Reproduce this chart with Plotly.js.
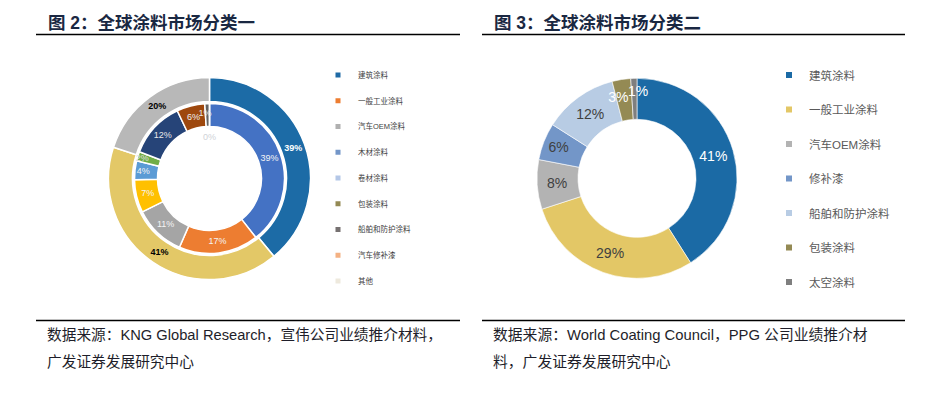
<!DOCTYPE html>
<html><head><meta charset="utf-8">
<script src="https://cdn.plot.ly/plotly-3.0.1.min.js"></script>
<style>
html,body{margin:0;padding:0;background:#fff;}
#wrap{width:926px;height:395px;position:relative;overflow:hidden;}
#left,#right{position:absolute;top:0;width:463px;height:395px;}
#left{left:0}#right{left:463px}
</style></head><body>
<div id="wrap"><div id="left"></div><div id="right"></div></div>
<script>
// ---------- Figure 2 data ----------
const leftTitle = '图 2：全球涂料市场分类一';
const leftSource1 = '数据来源：KNG Global Research，宣伟公司业绩推介材料，';
const leftSource2 = '广发证券发展研究中心';
const leftOuterLabels = ['建筑涂料', '工业涂料', '其他类'];
const leftOuterValues = [39, 41, 20];
const leftOuterColors = ['#1c6ba6', '#e3c867', '#b8b8b8'];
const leftOuterTextColors = ['#ffffff', '#000000', '#000000'];
const leftInnerLabels = ['建筑涂料', '一般工业涂料', '汽车OEM涂料', '木材涂料', '卷材涂料', '包装涂料', '船舶和防护涂料', '汽车修补漆', '其他', '未分类'];
const leftInnerValues = [39, 17, 11, 7, 4, 2, 12, 6, 1, 0];
const leftInnerColors = ['#4472c4', '#ed7d31', '#a5a5a5', '#ffc000', '#5b9bd5', '#70ad47', '#264478', '#9e480e', '#636363', '#dddddd'];
const leftInnerTextColors = ['#f4f4f4', '#f4f4f4', '#f4f4f4', '#f4f4f4', '#f4f4f4', '#e0e0e0', '#e8e8e8', '#eeeeee', '#e8e8e8', '#cfd3d8'];
const leftLegendLabels = ['建筑涂料', '一般工业涂料', '汽车OEM涂料', '木材涂料', '卷材涂料', '包装涂料', '船舶和防护涂料', '汽车修补漆', '其他'];
const leftLegendColors = ['#1f6aa5', '#ed7d31', '#b0b0b0', '#7396c8', '#b4c7e7', '#948a54', '#767171', '#f4b183', '#eee9dd'];

// ---------- Figure 3 data ----------
const rightTitle = '图 3：全球涂料市场分类二';
const rightSource1 = '数据来源：World Coating Council，PPG 公司业绩推介材';
const rightSource2 = '料，广发证券发展研究中心';
const rightLabels = ['建筑涂料', '一般工业涂料', '汽车OEM涂料', '修补漆', '船舶和防护涂料', '包装涂料', '太空涂料'];
const rightValues = [41, 29, 8, 6, 12, 3, 1];
const rightColors = ['#1b6aa5', '#e3c766', '#b3b3b3', '#7396c8', '#b8cce4', '#948a54', '#7f7f7f'];
const rightTextColors = ['#ffffff', '#404040', '#404040', '#404040', '#404040', '#ffffff', '#ffffff'];

// ---------- helpers ----------
const W = 463, H = 395;
const fx = v => v / W;
const fy = v => 1 - v / H;
const LAT = 'Liberation Sans, Arial, Noto Sans CJK SC, sans-serif';
const CJK = 'Liberation Sans, Noto Sans CJK SC, sans-serif';
const NB = '\u00a0';

function domainFor(cx, cy, r) {
  return { x: [fx(cx - r), fx(cx + r)], y: [fy(cy + r), fy(cy - r)] };
}

// label text for each slice, with optional non-breaking-space padding to nudge crowded labels
function labelTexts(values, padLeft, padRight) {
  return values.map((v, i) => NB.repeat(padLeft[i] || 0) + v + '%' + NB.repeat(padRight[i] || 0));
}

// a pie ring; `only` restricts which slices show a label; `ghost` makes slices invisible (label carrier)
function ring(opts) {
  const n = opts.values.length;
  const pos = opts.values.map((v, i) => (opts.only.indexOf(i) >= 0 ? 'inside' : 'none'));
  return {
    type: 'pie', values: opts.values, labels: opts.labels, sort: false,
    direction: 'clockwise', rotation: 0, hole: opts.hole,
    domain: domainFor(opts.cx, opts.cy, opts.r), showlegend: false, hoverinfo: 'skip',
    marker: opts.ghost
      ? { colors: new Array(n).fill('rgba(0,0,0,0)'), line: { width: 0 } }
      : { colors: opts.colors, line: { color: '#ffffff', width: opts.lineWidth } },
    text: opts.text, texttemplate: '%{text}', textposition: pos,
    insidetextorientation: 'horizontal',
    textfont: Object.assign({ family: LAT, size: opts.fontSize, color: opts.textColors }, opts.bold ? { weight: 'bold' } : {})
  };
}

function legendTraces(labels, colors, size) {
  return labels.map((lab, i) => ({
    type: 'scatter', mode: 'markers', x: [null], y: [null],
    name: lab, legendgroup: 'g' + i, showlegend: true, hoverinfo: 'skip',
    marker: { symbol: 'square', size: size, color: colors[i], line: { width: 0 } }
  }));
}

function frame(title, s1, s2, tx, lx0, lx1, srcSize) {
  return {
    annotations: [
      { text: '<b>' + title + '</b>', x: fx(tx), y: fy(23), xref: 'paper', yref: 'paper',
        xanchor: 'left', yanchor: 'middle', showarrow: false,
        font: { family: CJK, size: 17.5, color: '#1a2842' } },
      { text: s1, x: fx(tx - 1), y: fy(335), xref: 'paper', yref: 'paper',
        xanchor: 'left', yanchor: 'middle', showarrow: false,
        font: { family: CJK, size: srcSize, color: '#1e1e2a' } },
      { text: s2, x: fx(tx - 1), y: fy(362), xref: 'paper', yref: 'paper',
        xanchor: 'left', yanchor: 'middle', showarrow: false,
        font: { family: CJK, size: srcSize, color: '#1e1e2a' } }
    ],
    shapes: [
      { type: 'line', xref: 'paper', yref: 'paper', x0: fx(lx0), x1: fx(lx1), y0: fy(34.5), y1: fy(34.5),
        line: { color: '#000000', width: 1.5 } },
      { type: 'line', xref: 'paper', yref: 'paper', x0: fx(lx0), x1: fx(lx1), y0: fy(320.5), y1: fy(320.5),
        line: { color: '#000000', width: 1.5 } }
    ]
  };
}

const baseAxes = {
  xaxis: { visible: false, domain: [0, 0.01] },
  yaxis: { visible: false, domain: [0, 0.01] }
};

// ---------- Left figure ----------
const leftCx = 209.5, leftCy = 178.5;
const allIdx = n => Array.from({ length: n }, (_, i) => i);
const leftInnerText = labelTexts(leftInnerValues, [], leftInnerValues.map((_, i) => (i === 8 ? 2 : 0)));
const leftData = [
  ring({ values: leftOuterValues, labels: leftOuterLabels, colors: leftOuterColors, textColors: leftOuterTextColors,
         text: labelTexts(leftOuterValues, [], []), only: allIdx(3), cx: leftCx, cy: leftCy, r: 101, hole: 77 / 101,
         lineWidth: 1.5, fontSize: 9, bold: true }),
  ring({ values: leftInnerValues, labels: leftInnerLabels, colors: leftInnerColors, textColors: leftInnerTextColors,
         text: leftInnerText, only: [0, 1, 2, 3, 4, 5, 6, 7], cx: leftCx, cy: leftCy, r: 75, hole: 52 / 75,
         lineWidth: 1.5, fontSize: 9 }),
  // label carriers for the crowded slices at the top
  ring({ values: leftInnerValues, labels: leftInnerLabels, ghost: true, textColors: leftInnerTextColors,
         text: leftInnerText, only: [8], cx: leftCx, cy: leftCy, r: 68, hole: 52 / 68, fontSize: 9 }),
  ring({ values: leftInnerValues, labels: leftInnerLabels, ghost: true, textColors: leftInnerTextColors,
         text: leftInnerText, only: [9], cx: leftCx, cy: leftCy, r: 42, hole: 0, fontSize: 9 })
].concat(legendTraces(leftLegendLabels, leftLegendColors, 5));

const leftFrame = frame(leftTitle, leftSource1, leftSource2, 46, 36, 460, 14.7);
const leftLayout = Object.assign({
  width: W, height: H, margin: { l: 0, r: 0, t: 0, b: 0 },
  paper_bgcolor: '#ffffff', plot_bgcolor: 'rgba(0,0,0,0)',
  uniformtext: { mode: 'show', minsize: 9 },
  showlegend: true,
  legend: {
    x: fx(318), y: fy(60.5), xanchor: 'left', yanchor: 'top',
    bgcolor: 'rgba(0,0,0,0)', borderwidth: 0, traceorder: 'grouped', tracegroupgap: 6.75,
    font: { family: CJK, size: 7.5, color: '#404040' }
  }
}, baseAxes, leftFrame);

// ---------- Right figure ----------
const rightCx = 174, rightCy = 178.3;
const rightText = labelTexts(rightValues, [0, 0, 0, 0, 0, 0, 2], [0, 0, 0, 0, 0, 3, 0]);
const rightData = [
  ring({ values: rightValues, labels: rightLabels, colors: rightColors, textColors: rightTextColors,
         text: rightText, only: [0, 1, 2, 3, 4], cx: rightCx, cy: rightCy, r: 100, hole: 0.59,
         lineWidth: 0.6, fontSize: 14 }),
  ring({ values: rightValues, labels: rightLabels, ghost: true, textColors: rightTextColors,
         text: rightText, only: [5, 6], cx: rightCx, cy: rightCy, r: 90, hole: 59 / 90, fontSize: 14 })
].concat(legendTraces(rightLabels, rightColors, 6));

const rightFrame = frame(rightTitle, rightSource1, rightSource2, 29, 19, 442, 14.8);
const rightLayout = Object.assign({
  width: W, height: H, margin: { l: 0, r: 0, t: 0, b: 0 },
  paper_bgcolor: '#ffffff', plot_bgcolor: 'rgba(0,0,0,0)',
  uniformtext: { mode: 'show', minsize: 14 },
  showlegend: true,
  legend: {
    x: fx(306), y: fy(60.5), xanchor: 'left', yanchor: 'top',
    bgcolor: 'rgba(0,0,0,0)', borderwidth: 0, traceorder: 'grouped', tracegroupgap: 15.5,
    font: { family: CJK, size: 11.5, color: '#595959' }
  }
}, baseAxes, rightFrame);

const cfg = { staticPlot: true, displayModeBar: false };
Plotly.newPlot('left', leftData, leftLayout, cfg);
Plotly.newPlot('right', rightData, rightLayout, cfg);
</script>
</body></html>
